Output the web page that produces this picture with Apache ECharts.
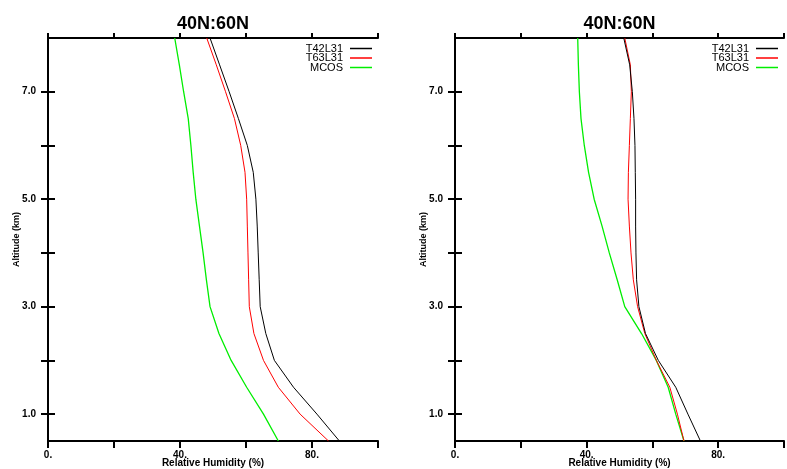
<!DOCTYPE html>
<html>
<head>
<meta charset="utf-8">
<script src="https://cdn.jsdelivr.net/npm/echarts@6/dist/echarts.min.js"></script>
<style>html,body{margin:0;padding:0;background:#fff}#c{width:787px;height:469px}</style>
</head>
<body>
<div id="c"></div>
<script>
// Altitude levels (km)
var altitude = [0.5, 1.0, 1.5, 2.0, 2.5, 3.0, 3.5, 4.0, 4.5, 5.0, 5.5, 6.0, 6.5, 7.0, 7.5, 8.0];
// Left panel relative humidity (%)
var leftT42 = [88.3, 81.5, 74.4, 68.6, 66.0, 64.3, 64.0, 63.7, 63.4, 63.0, 62.2, 60.4, 57.7, 54.9, 52.0, 49.1];
var leftT63 = [85.0, 76.4, 69.8, 65.3, 62.4, 61.0, 60.8, 60.6, 60.4, 60.2, 59.7, 58.4, 56.5, 53.8, 51.0, 48.1];
var leftMCOS = [69.8, 65.3, 60.2, 55.5, 51.8, 49.1, 48.0, 47.0, 45.9, 44.8, 44.0, 43.3, 42.5, 41.1, 39.8, 38.4];
// Right panel relative humidity (%)
var rightT42 = [74.6, 70.8, 67.1, 61.8, 57.9, 55.9, 55.2, 55.0, 54.9, 54.9, 54.8, 54.7, 54.4, 53.9, 53.1, 51.3];
var rightT63 = [69.6, 67.6, 65.3, 61.2, 57.7, 55.5, 54.2, 53.5, 53.0, 52.6, 52.7, 53.0, 53.3, 53.6, 53.3, 51.6];
var rightMCOS = [69.6, 67.1, 64.8, 61.2, 56.7, 51.6, 49.3, 46.9, 44.7, 42.3, 40.6, 39.3, 38.3, 37.8, 37.5, 37.3];

var panelTitles = ['40N:60N', '40N:60N'];
var seriesNames = ['T42L31', 'T63L31', 'MCOS'];
var xTicks = [0, 20, 40, 60, 80, 100];
var xLabels = [0, 40, 80];
var yTicks = [1, 2, 3, 4, 5, 6, 7];
var yLabels = [1, 3, 5, 7];

function pairs(vals) { return vals.map(function (v, i) { return [v, altitude[i]]; }); }

var FONT = '"Liberation Sans", Arial, Helvetica, sans-serif';
var grids = [
  { left: 48, top: 38, width: 330, height: 403, containLabel: false, outerBoundsMode: 'none' },
  { left: 455, top: 38, width: 329, height: 403, containLabel: false, outerBoundsMode: 'none' }
];
var lineStyleAxis = { color: '#000', width: 2 };

var xAxes = [], yAxes = [], series = [], titles = [], legends = [];
var panelData = [[leftT42, leftT63, leftMCOS], [rightT42, rightT63, rightMCOS]];
var colors = ['#000000', '#ff0000', '#00ee00'];
var widths = [1, 1, 1.3];

for (var g = 0; g < 2; g++) {
  xAxes.push({
    gridIndex: g, type: 'value', min: 0, max: 100, position: 'bottom',
    name: 'Relative Humidity (%)', nameLocation: 'middle', nameGap: 17, nameMoveOverlap: false,
    nameTextStyle: { fontFamily: FONT, fontWeight: 'bold', fontSize: 10, color: '#000' },
    axisLine: { show: true, lineStyle: lineStyleAxis },
    axisTick: { show: true, inside: false, length: 7, customValues: xTicks, lineStyle: lineStyleAxis },
    axisLabel: { show: true, customValues: xLabels, margin: 9, fontFamily: FONT, fontWeight: 'bold', fontSize: 10, color: '#000',
      formatter: function (v) { return v + '.'; } },
    splitLine: { show: false }
  });
  xAxes.push({
    gridIndex: g, type: 'value', min: 0, max: 100, position: 'top',
    axisLine: { show: true, lineStyle: lineStyleAxis },
    axisTick: { show: true, inside: false, length: 5, customValues: xTicks, lineStyle: lineStyleAxis },
    axisLabel: { show: false }, splitLine: { show: false }
  });
  yAxes.push({
    gridIndex: g, type: 'value', min: 0.5, max: 8, position: 'left',
    name: 'Altitude (km)', nameLocation: 'middle', nameGap: 27, nameMoveOverlap: false,
    nameTextStyle: { fontFamily: FONT, fontWeight: 'bold', fontSize: 9, color: '#000' },
    axisLine: { show: true, lineStyle: lineStyleAxis },
    axisTick: { show: true, inside: false, length: 7, customValues: yTicks, lineStyle: lineStyleAxis },
    axisLabel: { show: true, customValues: yLabels, margin: 12, fontFamily: FONT, fontWeight: 'bold', fontSize: 10, color: '#000',
      formatter: function (v) { return v.toFixed(1); } },
    splitLine: { show: false }
  });
  yAxes.push({
    gridIndex: g, type: 'value', min: 0.5, max: 8, position: 'right',
    axisLine: { show: true, lineStyle: lineStyleAxis },
    axisTick: { show: true, inside: false, length: 7, customValues: yTicks, lineStyle: lineStyleAxis },
    axisLabel: { show: false }, splitLine: { show: false }
  });
  for (var s = 0; s < 3; s++) {
    series.push({
      type: 'line', name: seriesNames[s], xAxisIndex: g * 2, yAxisIndex: g * 2,
      data: pairs(panelData[g][s]), showSymbol: false, symbol: 'none', animation: false,
      lineStyle: { color: colors[s], width: widths[s] }, itemStyle: { color: colors[s] }, z: 3 - s
    });
  }
  titles.push({
    text: panelTitles[g], left: grids[g].left + grids[g].width / 2, top: 15, textAlign: 'center', padding: 0,
    textStyle: { fontFamily: FONT, fontWeight: 'bold', fontSize: 18, color: '#000' }
  });
  legends.push({
    data: seriesNames.map(function (n, i) {
      return { name: n, icon: 'rect', itemStyle: { color: colors[i] } };
    }),
    orient: 'vertical', align: 'right', padding: 0,
    right: 787 - (grids[g].left + grids[g].width) + 6, top: 43,
    itemWidth: 22, itemHeight: 1.5, itemGap: -1.5,
    textStyle: { fontFamily: FONT, fontSize: 11, color: '#000', padding: [0, 2, 0, 0] },
    selectedMode: false
  });
}

var chart = echarts.init(document.getElementById('c'), null, { renderer: 'canvas' });
chart.setOption({
  backgroundColor: '#fff',
  animation: false,
  title: titles,
  legend: legends,
  grid: grids,
  xAxis: xAxes,
  yAxis: yAxes,
  series: series
});
</script>
</body>
</html>
